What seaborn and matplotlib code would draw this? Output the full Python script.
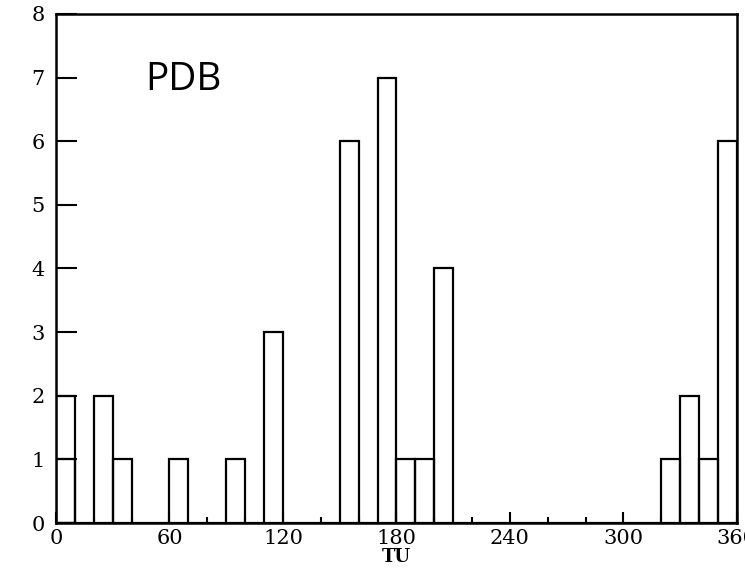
import numpy as np
import pandas as pd
import seaborn as sns
import matplotlib.pyplot as plt
from matplotlib.ticker import MultipleLocator

# conteggi per bin di 10 gradi (0-360)
bin_left = [0, 20, 30, 60, 90, 110, 150, 170, 180, 190, 200, 320, 330, 340, 350]
counts = [2, 2, 1, 1, 1, 3, 6, 7, 1, 1, 4, 1, 2, 1, 6]
# seconda serie sovrapposta nel primo bin
overlap_left = [0]
overlap_counts = [1]

x_ticks = [0, 60, 120, 180, 240, 300, 360]
y_ticks = list(range(0, 9))

df = pd.DataFrame({'TU': np.array(bin_left) + 5, 'n': counts})
df2 = pd.DataFrame({'TU': np.array(overlap_left) + 5, 'n': overlap_counts})

sns.set_style('ticks')
plt.rcParams['font.family'] = ['DejaVu Serif', 'Liberation Serif']
plt.rcParams['text.color'] = 'black'
plt.rcParams['xtick.color'] = 'black'
plt.rcParams['ytick.color'] = 'black'
plt.rcParams['axes.labelcolor'] = 'black'

fig = plt.figure(figsize=(7.45, 5.68), dpi=100)
ax = fig.add_axes([0.0752, 0.0792, 0.9138, 0.8962])

sns.histplot(data=df, x='TU', weights='n', bins=36, binrange=(0, 360),
             fill=False, color='black', linewidth=1.6, ax=ax)
sns.histplot(data=df2, x='TU', weights='n', bins=1, binrange=(0, 10),
             fill=False, color='black', linewidth=1.6, ax=ax)

ax.set_xlim(0, 360)
ax.set_ylim(0, 8)
ax.set_xticks(x_ticks)
ax.set_yticks(y_ticks)
ax.xaxis.set_minor_locator(MultipleLocator(20))
ax.tick_params(axis='x', which='major', direction='in', length=8, width=1.5,
               labelsize=15, pad=4)
ax.tick_params(axis='x', which='minor', direction='in', length=4, width=1.5)
ax.tick_params(axis='y', which='major', direction='in', length=15, width=1.5,
               labelsize=15, pad=8)
for s in ax.spines.values():
    s.set_linewidth(1.8)
    s.set_color('black')

ax.set_xlabel('TU', fontsize=13, fontweight='bold', labelpad=0)
ax.set_ylabel('')
ax.text(47, 6.81, 'PDB', fontsize=28, color='black',
        family=['Open Sans', 'DejaVu Sans'], ha='left', va='baseline')

fig.savefig('out.png', dpi=100)
